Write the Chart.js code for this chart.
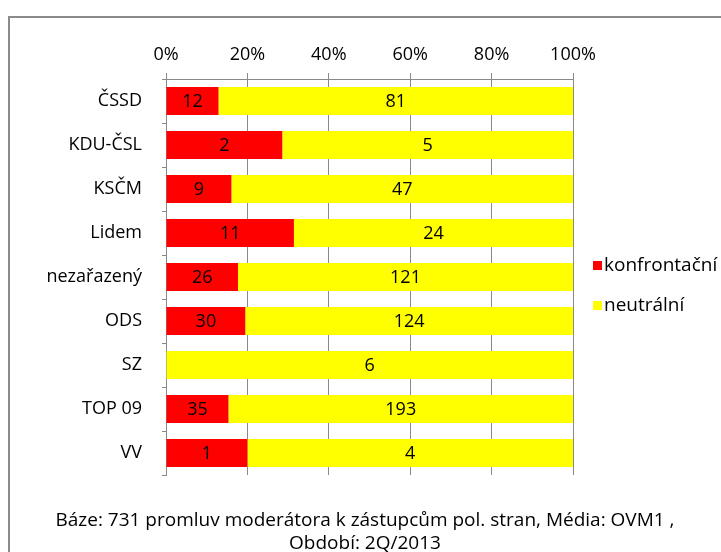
<!DOCTYPE html>
<html>
<head>
<meta charset="utf-8">
<script src="https://cdn.jsdelivr.net/npm/chart.js@4"></script>
<style>
    html, body { margin: 0; padding: 0; background: #fff; overflow: hidden; }
    #wrap { position: relative; width: 721px; height: 552px; }
    #frame {
        position: absolute; left: 8px; top: 16px; width: 800px; height: 600px;
        border: 2px solid #8a8a8a; box-sizing: border-box;
    }
    canvas { position: absolute; left: 0; top: 0; }
</style>
</head>
<body>
<div id="wrap">
    <div id="frame"></div>
    <canvas id="chart" width="721" height="552"></canvas>
</div>
<script>
const parties = ['ČSSD', 'KDU-ČSL', 'KSČM', 'Lidem', 'nezařazený', 'ODS', 'SZ', 'TOP 09', 'VV'];
const konfrontacni = [12, 2, 9, 11, 26, 30, 0, 35, 1];
const neutralni = [81, 5, 47, 24, 121, 124, 6, 193, 4];
const xTicks = [0, 20, 40, 60, 80, 100];
const footerLines = [
    'Báze: 731 promluv moderátora k zástupcům pol. stran, Média: OVM1 ,',
    'Období: 2Q/2013'
];

const FONT = '"Open Sans", Lato, sans-serif';
const SIZE = 18;
const totals = parties.map((p, i) => konfrontacni[i] + neutralni[i]);
const share = arr => arr.map((v, i) => v / totals[i] * 100);

// counts inside the bars
const barLabels = {
    id: 'barLabels',
    afterDatasetsDraw(chart) {
        const ctx = chart.ctx;
        ctx.save();
        ctx.font = SIZE + 'px ' + FONT;
        ctx.fillStyle = '#000';
        ctx.textAlign = 'center';
        ctx.textBaseline = 'middle';
        chart.data.datasets.forEach((ds, di) => {
            chart.getDatasetMeta(di).data.forEach((bar, i) => {
                const v = ds.counts[i];
                if (!v) return;
                ctx.fillText(String(v), (bar.x + bar.base) / 2, bar.y + 1);
            });
        });
        ctx.restore();
    }
};

// legend on the right and source note below
const extras = {
    id: 'extras',
    afterDraw(chart) {
        const ctx = chart.ctx;
        ctx.save();
        ctx.font = '19px ' + FONT;
        ctx.textBaseline = 'middle';
        chart.data.datasets.forEach((ds, i) => {
            const y = 266 + i * 40;
            ctx.fillStyle = ds.backgroundColor;
            ctx.fillRect(593, y - 5, 9, 9);
            ctx.fillStyle = '#000';
            ctx.textAlign = 'left';
            ctx.fillText(ds.label, 604, y);
        });
        ctx.textAlign = 'center';
        footerLines.forEach((line, i) => {
            ctx.fillText(line, 365, 521 + i * 23);
        });
        ctx.restore();
    }
};

new Chart(document.getElementById('chart'), {
    type: 'bar',
    data: {
        labels: parties,
        datasets: [
            {
                label: 'konfrontační',
                data: share(konfrontacni),
                counts: konfrontacni,
                backgroundColor: '#ff0000'
            },
            {
                label: 'neutrální',
                data: share(neutralni),
                counts: neutralni,
                backgroundColor: '#ffff00'
            }
        ]
    },
    options: {
        indexAxis: 'y',
        responsive: false,
        animation: false,
        events: [],
        categoryPercentage: 1,
        barPercentage: 0.64,
        layout: { padding: { left: 0, top: 0, right: 148, bottom: 77 } },
        plugins: {
            legend: { display: false },
            tooltip: { enabled: false }
        },
        scales: {
            x: {
                position: 'top',
                stacked: true,
                min: 0,
                max: 100,
                afterBuildTicks: scale => { scale.ticks = xTicks.map(v => ({ value: v })); },
                afterFit: scale => { scale.height = 79; },
                ticks: {
                    color: '#000',
                    font: { family: FONT, size: SIZE },
                    padding: 7,
                    callback: v => v + '%'
                },
                grid: { color: '#8a8a8a', lineWidth: 1, tickLength: 6 },
                border: { color: '#8a8a8a', width: 1 }
            },
            y: {
                stacked: true,
                afterFit: scale => { scale.width = 166; },
                ticks: {
                    color: '#000',
                    font: { family: FONT, size: SIZE },
                    padding: 20
                },
                grid: { offset: true, drawOnChartArea: false, color: '#8a8a8a', tickLength: 4 },
                border: { color: '#8a8a8a', width: 1 }
            }
        }
    },
    plugins: [barLabels, extras]
});
</script>
</body>
</html>
